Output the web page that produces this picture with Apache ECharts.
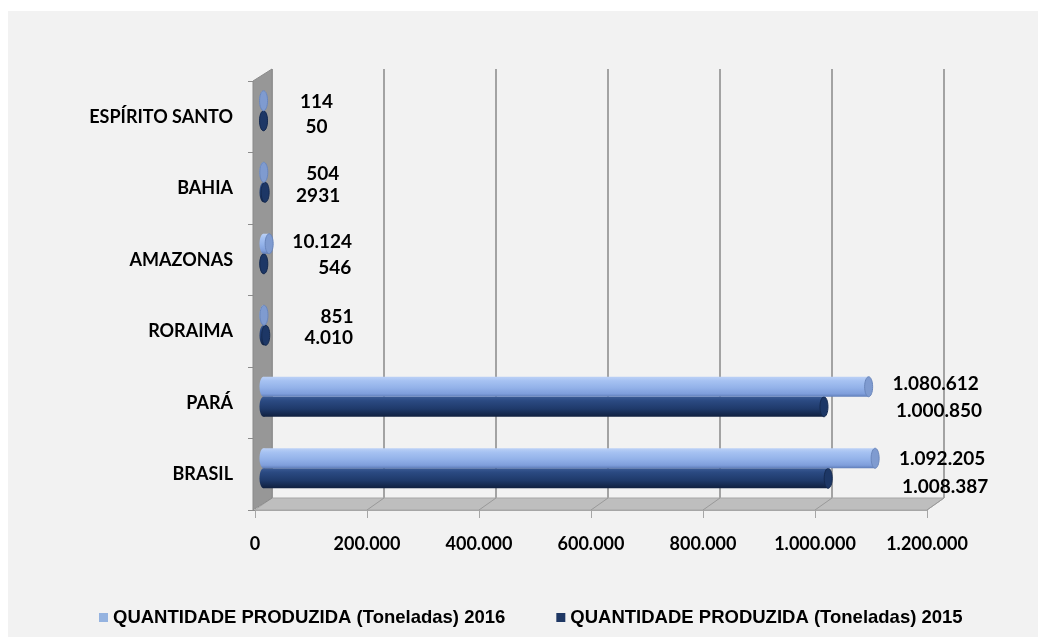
<!DOCTYPE html>
<html>
<head>
<meta charset="utf-8">
<script src="https://cdn.jsdelivr.net/npm/echarts@6/dist/echarts.min.js"></script>
<style>
  html, body { margin: 0; padding: 0; background: #ffffff; }
  #panel { position: absolute; left: 8px; top: 11px; width: 1030px; height: 626px; background: #f2f2f2; }
  #main { position: absolute; left: 0; top: 0; width: 1038px; height: 637px; }
</style>
</head>
<body>
<div id="panel"></div>
<div id="main"></div>
<script>
// categorias (de baixo para cima, como no eixo)
const estados = ['BRASIL', 'PARÁ', 'RORAIMA', 'AMAZONAS', 'BAHIA', 'ESPÍRITO SANTO'];
const nome2016 = 'QUANTIDADE PRODUZIDA (Toneladas) 2016';
const nome2015 = 'QUANTIDADE PRODUZIDA (Toneladas) 2015';
const valores2016 = [1092205, 1080612, 851, 10124, 504, 114];
const valores2015 = [1008387, 1000850, 4010, 546, 2931, 50];
// rótulos como aparecem no gráfico original
const rotulos2016 = ['1.092.205', '1.080.612', '851', '10.124', '504', '114'];
const rotulos2015 = ['1.008.387', '1.000.850', '4.010', '546', '2931', '50'];
const eixoMax = 1200000;
const eixoPasso = 200000;

// deslocamento dos rótulos (px) a partir da ponta da barra
const rotDx2016 = [67, 67, 73, 53, 59, 53];
const rotDy2016 = [1, -3, 2, -2, 2, 1];
const rotDx2015 = [117, 115, 63, 71, 53, 53];
const rotDy2015 = [9, 4, 3, 4, 4, 6];

// profundidade do "3D"
const DX = 17, DY = 12;
const frente = {left: 255, top: 81, width: 672, height: 429};

function fmt(v) {
  return String(v).replace(/\B(?=(\d{3})+(?!\d))/g, '.');
}

const myChart = echarts.init(document.getElementById('main'), null, {renderer: 'canvas'});

function cilindro(sinal, corpo, tampa, borda, rotulos, dxs, dys) {
  return function (params, api) {
    const v = api.value(0), c = api.value(1);
    const ini = api.coord([0, c]);
    const fim = api.coord([v, c]);
    const banda = api.size([0, 1])[1];
    const h = banda * 0.28;
    const cy = ini[1] + sinal * h / 2;
    const rx = h * 0.2;
    const i = params.dataIndex;
    return {
      type: 'group',
      children: [
        {type: 'ellipse', shape: {cx: ini[0], cy: cy, rx: rx, ry: h / 2}, style: {fill: corpo}},
        {type: 'rect', shape: {x: ini[0], y: cy - h / 2, width: Math.max(fim[0] - ini[0], 0), height: h}, style: {fill: corpo}},
        {type: 'ellipse', shape: {cx: fim[0], cy: cy, rx: rx, ry: h / 2}, style: {fill: tampa, stroke: borda, lineWidth: 1}},
        {
          type: 'text', x: fim[0] + dxs[i], y: cy + dys[i],
          style: {text: rotulos[i], fill: '#000', font: 'bold 19px Lato', align: 'center', verticalAlign: 'middle'}
        }
      ]
    };
  };
}

const grad2016 = new echarts.graphic.LinearGradient(0, 0, 0, 1, [
  {offset: 0, color: '#bcd1f6'}, {offset: 0.2, color: '#a6c2f2'}, {offset: 0.55, color: '#93b2e9'},
  {offset: 0.85, color: '#7f9edb'}, {offset: 1, color: '#5f7db8'}
]);
const grad2015 = new echarts.graphic.LinearGradient(0, 0, 0, 1, [
  {offset: 0, color: '#3b5b95'}, {offset: 0.2, color: '#2b4a82'}, {offset: 0.6, color: '#1f3a6b'},
  {offset: 1, color: '#10203f'}
]);

const option = {
  animation: false,
  backgroundColor: 'transparent',
  grid: [
    // fundo
    {left: frente.left + DX, top: frente.top - DY, width: frente.width, height: frente.height, outerBoundsMode: 'none'},
    // frente
    {left: frente.left, top: frente.top, width: frente.width, height: frente.height, outerBoundsMode: 'none'},
    // meio (barras)
    {left: frente.left + DX / 2, top: frente.top - DY / 2, width: frente.width, height: frente.height, outerBoundsMode: 'none'}
  ],
  xAxis: [
    {
      gridIndex: 0, type: 'value', min: 0, max: eixoMax, interval: eixoPasso,
      axisLine: {show: false}, axisTick: {show: false}, axisLabel: {show: false},
      splitLine: {show: true, lineStyle: {color: '#a3a3a3', width: 2}}
    },
    {
      gridIndex: 1, type: 'value', min: 0, max: eixoMax, interval: eixoPasso,
      axisLine: {show: true, lineStyle: {color: '#a6a6a6', width: 1}},
      axisTick: {show: true, length: 8, lineStyle: {color: '#a6a6a6'}},
      splitLine: {show: false},
      axisLabel: {
        margin: 25, color: '#000', fontFamily: 'Lato', fontWeight: 'bold', fontSize: 18,
        formatter: fmt
      }
    },
    {gridIndex: 2, type: 'value', min: 0, max: eixoMax, interval: eixoPasso, show: false}
  ],
  yAxis: [
    {gridIndex: 0, type: 'category', data: estados, show: false},
    {
      gridIndex: 1, type: 'category', data: estados,
      axisLine: {show: false},
      axisTick: {show: true, length: 7, lineStyle: {color: '#8c8c8c'}},
      axisLabel: {margin: 22, color: '#000', fontFamily: 'Lato', fontWeight: 'bold', fontSize: 18}
    },
    {gridIndex: 2, type: 'category', data: estados, show: false}
  ],
  legend: {
    left: 99, top: 608, padding: 0,
    data: [nome2016, nome2015],
    icon: 'rect', itemWidth: 9, itemHeight: 9, itemGap: 51,
    textStyle: {fontFamily: 'Liberation Sans', fontWeight: 'bold', fontSize: 18.5, color: '#000'}
  },
  series: [
    {
      // parede lateral e piso
      type: 'custom', xAxisIndex: 1, yAxisIndex: 1, z: 1, silent: true,
      data: [[0, 0]],
      renderItem: function (params, api) {
        const cs = params.coordSys;
        const x = cs.x, y = cs.y, w = cs.width, h = cs.height;
        const filhos = [
          {type: 'polygon', shape: {points: [[x, y + h], [x + w, y + h], [x + w + DX, y + h - DY], [x + DX, y + h - DY]]},
            style: {fill: '#bebebe', stroke: '#a6a6a6', lineWidth: 1}},
          {type: 'polygon', shape: {points: [[x - 2, y], [x + DX, y - DY], [x + DX, y + h - DY], [x - 2, y + h]]},
            style: {fill: '#979797', stroke: '#8a8a8a', lineWidth: 1}}
        ];
        for (let t = eixoPasso; t <= eixoMax; t += eixoPasso) {
          const px = api.coord([t, 0])[0];
          filhos.push({type: 'line', shape: {x1: px, y1: y + h, x2: px + DX, y2: y + h - DY},
            style: {stroke: '#999', lineWidth: 1}});
        }
        return {type: 'group', children: filhos};
      }
    },
    {
      name: nome2015, type: 'custom', xAxisIndex: 2, yAxisIndex: 2, z: 3,
      itemStyle: {color: '#1f3864'},
      data: valores2015.map((v, i) => [v, i]),
      encode: {x: 0, y: 1},
      renderItem: cilindro(1, grad2015, '#1d3766', '#152a50', rotulos2015, rotDx2015, rotDy2015)
    },
    {
      name: nome2016, type: 'custom', xAxisIndex: 2, yAxisIndex: 2, z: 3,
      itemStyle: {color: '#95b3e0'},
      data: valores2016.map((v, i) => [v, i]),
      encode: {x: 0, y: 1},
      renderItem: cilindro(-1, grad2016, '#7f9bd0', '#6a86bb', rotulos2016, rotDx2016, rotDy2016)
    }
  ]
};

myChart.setOption(option);
window.onresize = function () {
  myChart.resize();
};
</script>
</body>
</html>
